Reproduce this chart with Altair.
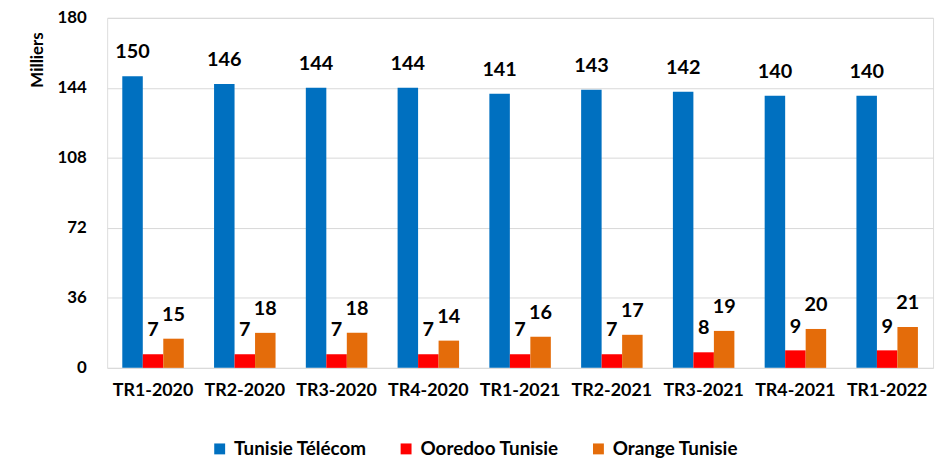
import altair as alt
import pandas as pd

quarters = ["TR1-2020", "TR2-2020", "TR3-2020", "TR4-2020", "TR1-2021",
            "TR2-2021", "TR3-2021", "TR4-2021", "TR1-2022"]
series = ["Tunisie Télécom", "Ooredoo Tunisie", "Orange Tunisie"]
tunisie_telecom = [150, 146, 144, 144, 141, 143, 142, 140, 140]
ooredoo = [7, 7, 7, 7, 7, 7, 8, 9, 9]
orange = [15, 18, 18, 14, 16, 17, 19, 20, 21]
colors = ["#0070C0", "#FF0000", "#E46C0A"]
y_ticks = [0, 36, 72, 108, 144, 180]

rows = []
for i, q in enumerate(quarters):
    for s, vals in zip(series, [tunisie_telecom, ooredoo, orange]):
        rows.append({"q": q, "s": s, "v": vals[i]})
df = pd.DataFrame(rows)

FONT = "Lato"

x = alt.X("q:N", sort=quarters, title=None,
          scale=alt.Scale(paddingInner=0.33, paddingOuter=0.165),
          axis=alt.Axis(labelAngle=0, labelFont=FONT, labelFontWeight="bold",
                        labelFontSize=18, labelColor="black", labelPadding=14,
                        domain=False, ticks=False, grid=False))
xo = alt.XOffset("s:N", sort=series, scale=alt.Scale(paddingInner=0, paddingOuter=0))
y = alt.Y("v:Q", scale=alt.Scale(domain=[0, 180], nice=False),
          axis=alt.Axis(values=y_ticks, title="Milliers", titleFont=FONT,
                        titleFontWeight="bold", titleFontSize=17, titleColor="black",
                        titleAngle=-90, titleAlign="right", titleBaseline="alphabetic",
                        titleX=-65, titleY=14,
                        labelFont=FONT, labelFontWeight="bold", labelFontSize=17,
                        labelColor="black", labelPadding=21,
                        domain=False, ticks=False, grid=True,
                        gridColor="#D9D9D9", gridWidth=1))
color = alt.Color("s:N", sort=series,
                  scale=alt.Scale(domain=series, range=colors),
                  legend=alt.Legend(title=None, orient="none", legendX=104, legendY=425,
                                    direction="horizontal", symbolType="square",
                                    symbolSize=121, symbolStrokeWidth=0,
                                    labelFont=FONT, labelFontWeight="bold",
                                    labelFontSize=19, labelColor="black",
                                    columnPadding=30, labelOffset=5))

base = alt.Chart(df)
bars = base.mark_bar().encode(x=x, xOffset=xo, y=y, color=color)
labels = base.mark_text(dy=-18, baseline="alphabetic", font=FONT, fontWeight="bold",
                        fontSize=20, color="black").encode(
    x=x, xOffset=xo, y=y, text=alt.Text("v:Q", format=".0f"))

chart = (bars + labels).properties(
    width=833, height=353,
    autosize=alt.AutoSizeParams(type="none"),
    padding={"left": 100, "top": 8, "right": 7, "bottom": 92},
).configure_view(stroke=None).configure(background="white")

chart.save("out.html", embed_options={"renderer": "svg", "actions": False})
